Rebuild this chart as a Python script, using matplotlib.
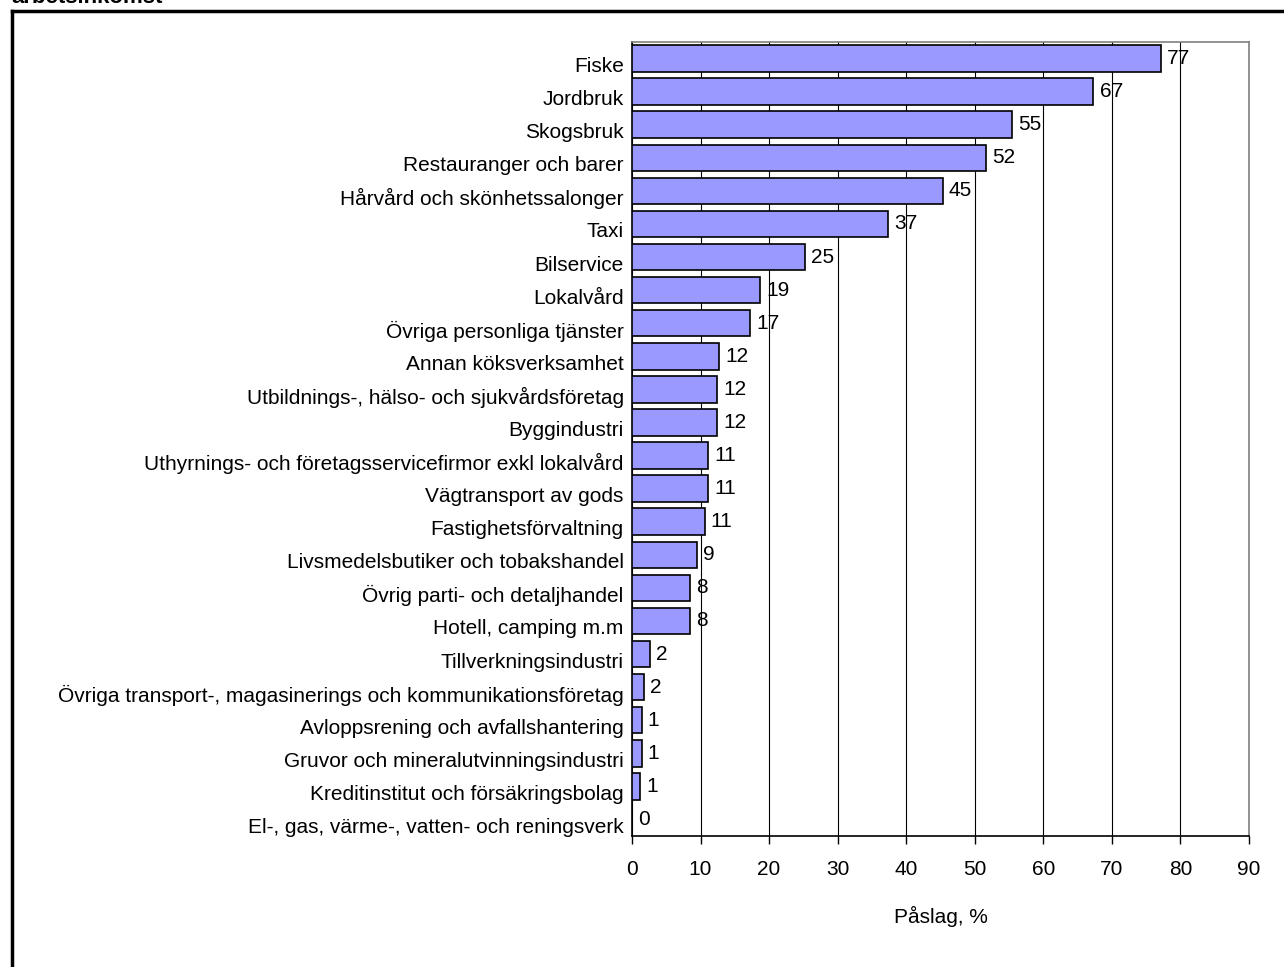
import matplotlib
matplotlib.use('Agg')
import matplotlib.pyplot as plt
from matplotlib.transforms import ScaledTranslation
from matplotlib.lines import Line2D

plt.rcParams['font.family'] = ['Liberation Sans', 'DejaVu Sans']

categories = ['Fiske', 'Jordbruk', 'Skogsbruk', 'Restauranger och barer',
              'Hårvård och skönhetssalonger', 'Taxi', 'Bilservice', 'Lokalvård',
              'Övriga personliga tjänster', 'Annan köksverksamhet',
              'Utbildnings-, hälso- och sjukvårdsföretag', 'Byggindustri',
              'Uthyrnings- och företagsservicefirmor exkl lokalvård',
              'Vägtransport av gods', 'Fastighetsförvaltning',
              'Livsmedelsbutiker och tobakshandel', 'Övrig parti- och detaljhandel',
              'Hotell, camping m.m', 'Tillverkningsindustri',
              'Övriga transport-, magasinerings och kommunikationsföretag',
              'Avloppsrening och avfallshantering',
              'Gruvor och mineralutvinningsindustri',
              'Kreditinstitut och försäkringsbolag',
              'El-, gas, värme-, vatten- och reningsverk']
values = [77.1, 67.3, 55.4, 51.7, 45.3, 37.3, 25.2, 18.7, 17.2, 12.7, 12.4, 12.4,
          11.1, 11.1, 10.6, 9.5, 8.5, 8.4, 2.6, 1.7, 1.4, 1.4, 1.2, 0.0]
value_labels = ['77', '67', '55', '52', '45', '37', '25', '19', '17', '12', '12', '12',
                '11', '11', '11', '9', '8', '8', '2', '2', '1', '1', '1', '0']
x_ticks = list(range(0, 100, 10))

fs = 15

fig = plt.figure(figsize=(12.84, 9.67), dpi=100)
ax = fig.add_axes([632 / 1284, 1 - 836 / 967, 617 / 1284, 794 / 967])

ypos = list(range(len(categories)))
ax.barh(ypos, values, height=0.8, color='#9999FF', edgecolor='black',
        linewidth=1.2, zorder=3)
for y, v, lab in zip(ypos, values, value_labels):
    ax.text(v + 0.9, y, lab, va='center', ha='left', fontsize=fs, zorder=4)

ax.set_ylim(len(categories) - 0.5, -0.5)
ax.set_xlim(0, 90)
ax.set_xticks(x_ticks)
ax.set_yticks(ypos)
ax.set_yticklabels(categories, fontsize=fs)
ax.tick_params(axis='y', length=0, pad=6)
ax.tick_params(axis='x', direction='out', length=6, width=1, labelsize=fs, pad=11)
shift = ScaledTranslation(0, -6 / 100, fig.dpi_scale_trans)
for label in ax.get_yticklabels():
    label.set_transform(label.get_transform() + shift)

ax.grid(axis='x', color='black', linewidth=0.8, zorder=0)
ax.grid(axis='y', visible=False)
ax.spines['left'].set_color('black')
ax.spines['bottom'].set_color('black')
ax.spines['top'].set_color('#808080')
ax.spines['right'].set_color('#808080')
for s in ax.spines.values():
    s.set_linewidth(1.2)

ax.set_xlabel('Påslag, %', fontsize=fs, labelpad=20)

# outer chart frame (cropped on the right and bottom)
fig.add_artist(Line2D([12 / 1284, 12 / 1284], [0, 1 - 11 / 967], color='black',
                      linewidth=2.5, transform=fig.transFigure))
fig.add_artist(Line2D([12 / 1284, 1], [1 - 11 / 967, 1 - 11 / 967], color='black',
                      linewidth=2.5, transform=fig.transFigure))
fig.text(11 / 1284, 1 - 3 / 967, 'arbetsinkomst', fontsize=16, fontweight='bold',
         ha='left', va='baseline')

fig.savefig('out.png', dpi=100)
